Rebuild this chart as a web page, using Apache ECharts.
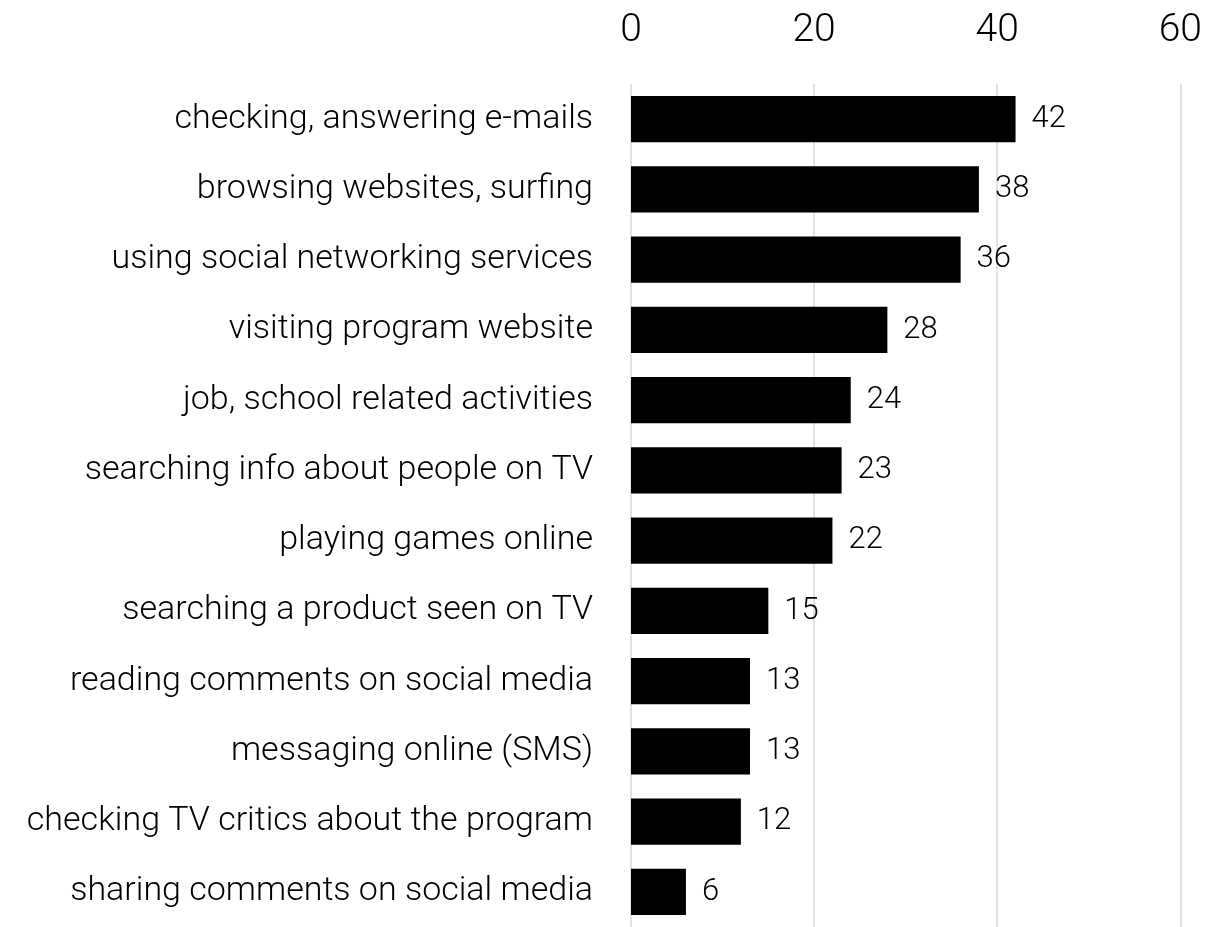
<!DOCTYPE html>
<html>
<head>
<meta charset="utf-8">
<script src="https://cdn.jsdelivr.net/npm/echarts@6/dist/echarts.min.js"></script>
<style>
  html, body { margin: 0; padding: 0; background: #fff; }
  #chart { width: 1205px; height: 927px; }
</style>
</head>
<body>
<div id="chart"></div>
<script>
// Online activities while watching TV (share, %)
const activities = [
  'checking, answering e-mails',
  'browsing websites, surfing',
  'using social networking services',
  'visiting program website',
  'job, school related activities',
  'searching info about people on TV',
  'playing games online',
  'searching a product seen on TV',
  'reading comments on social media',
  'messaging online (SMS)',
  'checking TV critics about the program',
  'sharing comments on social media'
];
const shares = [42, 38, 36, 28, 24, 23, 22, 15, 13, 13, 12, 6];
const axisMin = 0;
const axisMax = 60;
const axisStep = 20;

const FONT = 'Roboto';

const chart = echarts.init(document.getElementById('chart'), null, { renderer: 'canvas' });
chart.setOption({
  animation: false,
  backgroundColor: '#ffffff',
  grid: { left: 631, right: 21, top: 84, height: 848, containLabel: false },
  xAxis: {
    type: 'value',
    position: 'top',
    min: axisMin,
    max: axisMax,
    interval: axisStep,
    axisLine: { show: false },
    axisTick: { show: false },
    splitLine: { show: true, lineStyle: { color: '#d9d9d9', width: 1.5 } },
    axisLabel: { color: '#000', fontSize: 39, fontFamily: FONT, fontWeight: 300, margin: 33 }
  },
  yAxis: {
    type: 'category',
    inverse: true,
    data: activities,
    axisLine: { show: false },
    axisTick: { show: false },
    axisLabel: { color: '#000', fontSize: 34, fontFamily: FONT, fontWeight: 300, margin: 38, padding: [6, 0, 0, 0] }
  },
  series: [{
    type: 'bar',
    data: shares,
    barCategoryGap: '34%',
    itemStyle: { color: '#000' },
    label: {
      show: true,
      position: 'right',
      distance: 16,
      color: '#000',
      fontSize: 31,
      fontFamily: FONT,
      fontWeight: 300,
      padding: [4, 0, 0, 0]
    }
  }]
});
</script>
</body>
</html>
